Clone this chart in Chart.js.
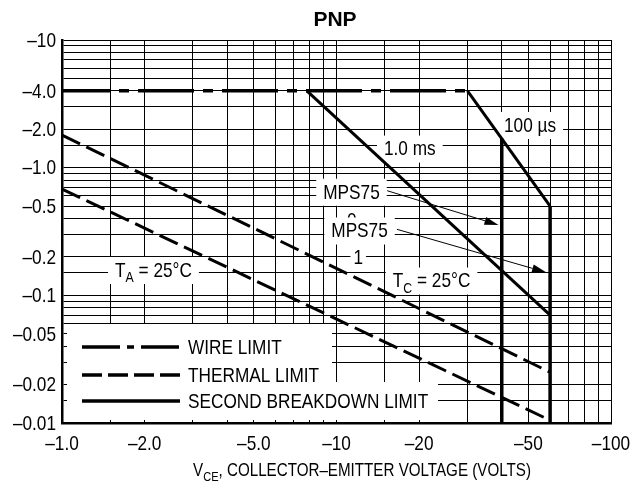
<!DOCTYPE html>
<html>
<head>
<meta charset="utf-8">
<script src="https://cdn.jsdelivr.net/npm/chart.js@4.4.0/dist/chart.umd.min.js"></script>
<style>
  html, body { margin: 0; padding: 0; background: #fff; }
  #wrap { width: 644px; height: 489px; }
</style>
</head>
<body>
<div id="wrap"><canvas id="soa" width="644" height="489"></canvas></div>
<script>
// Active region safe operating area, PNP
// values are magnitudes (log axes); tick labels carry the minus sign
const FONT = '"Liberation Sans", Arial, sans-serif';
const NARROW = 0.82; // condensed look, text is squeezed horizontally

const xGrid = [1, 1.5, 2, 3, 4, 5, 6, 7, 8, 9, 10, 15, 20, 30, 40, 50, 60, 70, 80, 90, 100];
const yGrid = [0.01, 0.015, 0.02, 0.03, 0.04, 0.05, 0.06, 0.07, 0.08, 0.09,
  0.1, 0.15, 0.2, 0.3, 0.4, 0.5, 0.6, 0.7, 0.8, 0.9,
  1, 1.5, 2, 3, 4, 5, 6, 7, 8, 9, 10];
const xTickValues = [1, 2, 5, 10, 20, 50, 100];
const xTickLabels = ["–1.0", "–2.0", "–5.0", "–10", "–20", "–50", "–100"];
const yTickValues = [0.01, 0.02, 0.05, 0.1, 0.2, 0.5, 1, 2, 4, 10];
const yTickLabels = ["–0.01", "–0.02", "–0.05", "–0.1", "–0.2", "–0.5", "–1.0", "–2.0", "–4.0", "–10"];

// curves: |VCE| (V), |IC| (A)
const wireLimit = [{ x: 1, y: 4 }, { x: 30, y: 4 }];
const sb1ms = [{ x: 7.8, y: 4 }, { x: 60, y: 0.07 }];
const sb100us = [{ x: 30, y: 4 }, { x: 60, y: 0.5 }];
const mps750 = [{ x: 40, y: 1.69 }, { x: 40, y: 0.01 }];
const mps751 = [{ x: 60, y: 0.5 }, { x: 60, y: 0.01 }];
const thermalTC = [{ x: 1, y: 1.8 }, { x: 60, y: 0.025 }];
const thermalTA = [{ x: 1, y: 0.68 }, { x: 60, y: 0.0105 }];

const legendLabels = ["WIRE LIMIT", "THERMAL LIMIT", "SECOND BREAKDOWN LIMIT"];

// text notes, placed in data coordinates
const notes = [
  { runs: [{ t: "100 µs" }], x: 50.7, y: 2.16 },
  { runs: [{ t: "1.0 ms" }], x: 18.5, y: 1.41 },
  { runs: [{ t: "MPS75" }], x: 11.34, y: 0.648 },
  { runs: [{ t: "0" }], x: 11.36, y: 0.385, bare: true },
  { runs: [{ t: "MPS75" }], x: 12.13, y: 0.322 },
  { runs: [{ t: "1" }], x: 12.0, y: 0.2, narrow: true },
  { runs: [{ t: "T" }, { t: "C", sub: true }, { t: " = 25°C" }], x: 22.2, y: 0.1306 },
  { runs: [{ t: "T" }, { t: "A", sub: true }, { t: " = 25°C" }], x: 2.154, y: 0.158 },
];
const arrows = [
  { from: [15.3, 0.66], to: [38.9, 0.356] },
  { from: [16.6, 0.329], to: [58, 0.1515] },
];

const DASH_WIRE = [56, 9, 10, 9];
const DASH_THERMAL = [20, 7];

function fontOf(size, weight) {
  return (weight || "") + " " + size + "px " + FONT;
}

function textWidth(ctx, str, size) {
  ctx.font = fontOf(size);
  return ctx.measureText(str).width * NARROW;
}

// squeezed text, left aligned at x, vertically centred on y
function putText(ctx, str, x, y, size) {
  ctx.save();
  ctx.font = fontOf(size);
  ctx.textAlign = "left";
  ctx.textBaseline = "middle";
  ctx.fillStyle = "#000";
  ctx.translate(x, y);
  ctx.scale(NARROW, 1);
  ctx.fillText(str, 0, 0);
  ctx.restore();
}

// text runs with subscripts, centred on cx
function runsWidth(ctx, runs, size, subSize) {
  return runs.reduce((w, r) => w + textWidth(ctx, r.t, r.sub ? subSize : size), 0);
}
function drawRuns(ctx, runs, cx, cy, size, subSize, subDrop) {
  let x = cx - runsWidth(ctx, runs, size, subSize) / 2;
  runs.forEach((r) => {
    const s = r.sub ? subSize : size;
    putText(ctx, r.t, x, r.sub ? cy + subDrop : cy, s);
    x += textWidth(ctx, r.t, s);
  });
}

const notesPlugin = {
  id: "notes",
  beforeDatasetsDraw(chart) {
    const { ctx, chartArea: a, scales } = chart;
    ctx.save();
    // legend boxes
    ctx.fillStyle = "#fff";
    ctx.fillRect(a.left + 5, a.bottom - 99, 265, 96);
    ctx.fillRect(a.left + 5, a.bottom - 41, 371, 38);
    const rows = [a.bottom - 76, a.bottom - 48, a.bottom - 22];
    const dashes = [DASH_WIRE.map((d, i) => (i === 0 ? 38 : i === 2 ? 7 : 7)), [20, 6], []];
    rows.forEach((ry, i) => {
      ctx.beginPath();
      ctx.setLineDash(dashes[i]);
      ctx.lineWidth = 3.5;
      ctx.strokeStyle = "#000";
      ctx.moveTo(a.left + 20, ry);
      ctx.lineTo(a.left + 118, ry);
      ctx.stroke();
      ctx.setLineDash([]);
      putText(ctx, legendLabels[i], a.left + 126, ry + 1, 21);
    });
    // notes with white backing
    notes.forEach((n) => {
      const cx = scales.x.getPixelForValue(n.x);
      const cy = scales.y.getPixelForValue(n.y);
      const w = runsWidth(ctx, n.runs, 21, 15);
      if (!n.bare) {
        const padX = n.narrow ? 3 : 7;
        ctx.fillStyle = "#fff";
        ctx.fillRect(cx - w / 2 - padX, cy - 13, w + 2 * padX, 27);
      }
      drawRuns(ctx, n.runs, cx, cy + 1, 21, 15, 7);
    });
    ctx.restore();
  },
  afterDatasetsDraw(chart) {
    const { ctx, scales } = chart;
    ctx.save();
    ctx.strokeStyle = "#000";
    ctx.fillStyle = "#000";
    ctx.lineWidth = 1;
    arrows.forEach((ar) => {
      const x0 = scales.x.getPixelForValue(ar.from[0]);
      const y0 = scales.y.getPixelForValue(ar.from[1]);
      const x1 = scales.x.getPixelForValue(ar.to[0]);
      const y1 = scales.y.getPixelForValue(ar.to[1]);
      const ang = Math.atan2(y1 - y0, x1 - x0);
      const len = 14, half = 4;
      const bx = x1 - len * Math.cos(ang), by = y1 - len * Math.sin(ang);
      ctx.beginPath();
      ctx.moveTo(x0, y0);
      ctx.lineTo(bx, by);
      ctx.stroke();
      ctx.beginPath();
      ctx.moveTo(x1, y1);
      ctx.lineTo(bx + half * Math.sin(ang), by - half * Math.cos(ang));
      ctx.lineTo(bx - half * Math.sin(ang), by + half * Math.cos(ang));
      ctx.closePath();
      ctx.fill();
    });
    ctx.restore();
  },
  afterDraw(chart) {
    const { ctx, chartArea: a, scales } = chart;
    // tick labels (squeezed like the original lettering)
    xTickValues.forEach((v, i) => {
      const px = scales.x.getPixelForValue(v);
      const w = textWidth(ctx, xTickLabels[i], 21);
      putText(ctx, xTickLabels[i], px - w / 2, a.bottom + 21, 21);
    });
    yTickValues.forEach((v, i) => {
      const py = scales.y.getPixelForValue(v);
      const w = textWidth(ctx, yTickLabels[i], 21);
      putText(ctx, yTickLabels[i], a.left - 6 - w, py + 1, 21);
    });
    ctx.save();
    ctx.fillStyle = "#000";
    ctx.textAlign = "center";
    ctx.textBaseline = "middle";
    ctx.font = 'bold 21px "Liberation Sans", Arial, sans-serif';
    ctx.fillText("PNP", 335, 20);
    ctx.restore();
    // axis title with subscript
    const title = [{ t: "V" }, { t: "CE", sub: true }, { t: ", COLLECTOR–EMITTER VOLTAGE (VOLTS)" }];
    drawRuns(ctx, title, 362, 471, 18.5, 13.5, 6);
  },
};

function serie(data, width, dash, offset) {
  return {
    data,
    showLine: true,
    borderColor: "#000",
    borderWidth: width,
    borderDash: dash,
    borderDashOffset: offset || 0,
    borderCapStyle: "butt",
    pointRadius: 0,
    fill: false,
  };
}

new Chart(document.querySelector("#soa"), {
  type: "scatter",
  data: {
    datasets: [
      serie(wireLimit, 3.5, DASH_WIRE, 8),
      serie(thermalTC, 3, DASH_THERMAL),
      serie(thermalTA, 3, DASH_THERMAL),
      serie(sb1ms, 3, []),
      serie(sb100us, 3, []),
      serie(mps750, 3.5, []),
      serie(mps751, 3.5, []),
    ],
  },
  options: {
    responsive: false,
    animation: false,
    events: [],
    layout: { padding: { left: 0, right: 33, top: 40, bottom: 0 } },
    plugins: { legend: { display: false }, tooltip: { enabled: false } },
    scales: {
      x: {
        type: "logarithmic",
        min: 1,
        max: 100,
        afterBuildTicks: (s) => { s.ticks = xGrid.map((v) => ({ value: v })); },
        afterFit: (s) => { s.height = 66; },
        grid: { color: "#000", lineWidth: 1, drawTicks: false },
        border: { color: "#000", width: 2.5 },
        ticks: { display: false, autoSkip: false },
      },
      y: {
        type: "logarithmic",
        min: 0.01,
        max: 10,
        afterBuildTicks: (s) => { s.ticks = yGrid.map((v) => ({ value: v })); },
        afterFit: (s) => { s.width = 62; },
        grid: { color: "#000", lineWidth: 1, drawTicks: false },
        border: { color: "#000", width: 2.5 },
        ticks: { display: false, autoSkip: false },
      },
    },
  },
  plugins: [notesPlugin],
});
</script>
</body>
</html>
